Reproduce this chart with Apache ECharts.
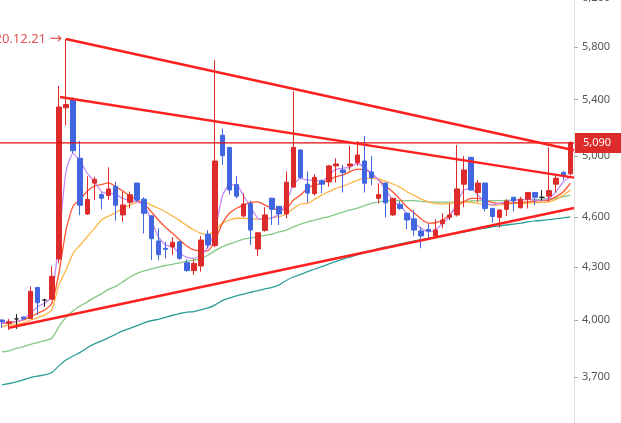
<!DOCTYPE html>
<html>
<head>
<meta charset="utf-8">
<script src="https://cdn.jsdelivr.net/npm/echarts@6/dist/echarts.min.js"></script>
<style>
  html, body { margin: 0; padding: 0; background: #fff; }
  #chart { width: 621px; height: 423px; }
</style>
</head>
<body>
<div id="chart"></div>
<script>
// daily candles: [open, close, low, high]
const ohlc = [
  [4000,3991,3957,4003],[3982,3991,3946,4006],[4006,4006,3952,4033],[4016,4007,4002,4018],
  [4008,4159,4005,4187],[4181,4095,4028,4185],[4110,4110,4072,4117],[4115,4245,4113,4304],
  [4346,5345,4321,5501],[5339,5363,5212,5863],[5396,5036,5020,5416],[4985,4676,4613,5103],
  [4621,4713,4615,4864],[4819,4844,4709,4861],[4744,4721,4650,4758],[4739,4781,4709,4924],
  [4798,4676,4579,4828],[4615,4678,4573,4764],[4695,4743,4656,4764],[4819,4709,4699,4822],
  [4715,4625,4500,4727],[4609,4468,4340,4612],[4454,4372,4340,4533],[4410,4404,4350,4449],
  [4418,4446,4370,4478],[4449,4350,4340,4454],[4324,4278,4272,4344],[4278,4320,4253,4344],
  [4305,4460,4272,4484],[4496,4430,4410,4521],[4426,4966,4418,5697],[5144,5002,4940,5191],
  [5059,4774,4744,5062],[4809,4734,4719,4864],[4609,4684,4599,4751],[4686,4521,4430,4704],
  [4406,4504,4364,4507],[4519,4615,4511,4663],[4721,4650,4552,4724],[4669,4621,4552,4672],
  [4621,4825,4594,4896],[4793,5059,4790,5461],[5041,4857,4844,5045],[4812,4754,4692,4896],
  [4750,4857,4737,4877],[4834,4812,4754,4844],[4827,4933,4795,4940],[4933,4946,4822,4985],
  [4906,4889,4758,4940],[4933,4946,4902,5068],[4955,5007,4933,5103],[4966,4818,4758,5138],
  [4893,4855,4805,5000],[4720,4744,4688,4817],[4819,4691,4600,4822],[4615,4720,4608,4723],
  [4682,4656,4646,4702],[4625,4583,4525,4628],[4590,4521,4485,4646],[4515,4485,4410,4540],
  [4525,4515,4470,4560],[4484,4521,4478,4587],[4560,4583,4531,4625],[4600,4615,4583,4688],
  [4615,4781,4605,5075],[4812,4906,4663,5000],[4991,4774,4770,4994],[4758,4819,4699,4839],
  [4819,4656,4636,4822],[4656,4605,4567,4659],[4600,4646,4535,4649],[4650,4703,4608,4714],
  [4727,4703,4636,4730],[4660,4715,4656,4730],[4715,4758,4656,4761],[4758,4727,4677,4761],
  [4727,4727,4705,4774],[4734,4770,4699,5059],[4812,4851,4758,4873],[4891,4869,4839,4894],
  [4880,5090,4870,5100]
];

// moving averages
const ma5 = [3985,3985,3991,4005,4037,4073,4092,4129,4460,4895,5018,4962,4884,4828,4763,4752,4746,4720,4705,4698,
  4677,4583,4480,4430,4420,4380,4356,4350,4370,4420,4521,4735,4807,4807,4735,4665,4594,4586,4597,4621,
  4696,4807,4850,4839,4839,4828,4873,4911,4918,4924,4951,4924,4884,4839,4774,4709,4671,4625,4567,4531,
  4511,4521,4562,4604,4688,4774,4785,4741,4698,4677,4688,4698,4709,4709,4714,4709,4709,4720,4763,4828,4861];
const ma10 = [3982,3985,3991,4000,4018,4037,4055,4092,4263,4521,4671,4715,4767,4800,4810,4820,4796,4767,4735,4709,
  4684,4635,4583,4538,4501,4460,4424,4400,4394,4396,4460,4562,4625,4657,4677,4694,4698,4677,4657,4646,
  4652,4709,4741,4785,4807,4818,4839,4861,4873,4895,4911,4906,4884,4839,4800,4761,4715,4665,4627,4589,
  4564,4566,4583,4615,4667,4698,4720,4720,4709,4692,4688,4688,4692,4694,4698,4703,4705,4709,4731,4763,4818];
const ma20 = [3964,3973,3978,3985,4000,4013,4028,4055,4196,4282,4380,4430,4480,4531,4583,4608,4629,4657,4677,4694,
  4698,4677,4657,4635,4608,4579,4548,4521,4501,4491,4521,4562,4583,4594,4594,4589,4589,4589,4597,4604,
  4621,4655,4684,4688,4714,4741,4763,4785,4800,4818,4839,4850,4850,4846,4830,4813,4793,4763,4739,4715,
  4698,4688,4684,4688,4692,4698,4694,4688,4682,4677,4677,4682,4688,4688,4688,4692,4694,4698,4714,4741,4774];
const ma60 = [3831,3836,3849,3857,3870,3879,3889,3902,3964,4015,4051,4077,4100,4125,4145,4170,4187,4213,4241,4262,
  4276,4288,4299,4308,4315,4324,4332,4340,4348,4370,4396,4418,4436,4451,4466,4473,4480,4488,4496,4509,
  4521,4540,4558,4571,4583,4594,4604,4619,4633,4646,4657,4673,4688,4696,4705,4705,4705,4705,4705,4701,
  4698,4696,4696,4696,4698,4701,4703,4704,4705,4705,4705,4707,4709,4711,4714,4714,4716,4718,4720,4731,4741];
const ma120 = [3662,3669,3677,3687,3699,3706,3712,3724,3758,3788,3809,3828,3852,3872,3888,3905,3923,3941,3955,3969,
  3985,3996,4004,4015,4026,4035,4043,4046,4055,4066,4083,4107,4121,4133,4144,4154,4163,4173,4182,4196,
  4221,4241,4256,4272,4286,4301,4317,4332,4346,4358,4370,4382,4394,4408,4418,4426,4436,4446,4454,4462,
  4470,4476,4484,4494,4501,4509,4517,4527,4533,4540,4546,4552,4558,4564,4571,4577,4581,4585,4591,4596,4602];

// drawn trend lines: [candle index, price]
const trendTop = [[9, 5863], [80.5, 5039]];
const trendMid = [[8.16, 5418], [80.5, 4855]];
const trendLow = [[1, 3958], [80.5, 4658]];

const lastPrice = 5090;
const peakDate = '20.12.21';
const yTicks = [3700, 4000, 4300, 4600, 5000, 5400, 5800, 6200];

const days = ohlc.map((d, i) => 'D' + (i + 1));

const chart = echarts.init(document.getElementById('chart'));

function maLine(name, data, color, width) {
  return {
    name: name, type: 'line', data: data, symbol: 'none', smooth: 0.2, z: 2,
    lineStyle: { color: color, width: width }, silent: true
  };
}
function trendLine(data) {
  return {
    type: 'line', xAxisIndex: 1, data: data, symbol: 'none', z: 5, silent: true,
    lineStyle: { color: '#ff1f1f', width: 2.5 }
  };
}

const option = {
  animation: false,
  backgroundColor: '#fff',
  textStyle: { fontFamily: 'Noto Sans, sans-serif' },
  grid: { left: -1.5, right: 47, top: -10, bottom: 0, containLabel: false, outerBoundsMode: 'none' },
  xAxis: [
    { type: 'category', data: days, show: false, boundaryGap: true },
    { type: 'value', min: -0.5, max: 80.5, show: false }
  ],
  yAxis: {
    type: 'log', logBase: 10, position: 'right', min: 3477, max: 6267,
    axisLine: { show: true, onZero: false, lineStyle: { color: '#dedede', width: 1 } },
    axisTick: { show: true, length: 4, customValues: yTicks, lineStyle: { color: '#aaa' } },
    axisLabel: {
      customValues: yTicks, margin: 8, color: '#555', fontSize: 11,
      formatter: v => Math.round(v).toLocaleString('en-US')
    },
    splitLine: { show: false }
  },
  series: [
    maLine('MA120', ma120, '#2a9d98', 1.3),
    maLine('MA60', ma60, '#86c886', 1.3),
    maLine('MA20', ma20, '#ffb347', 1.3),
    maLine('MA10', ma10, '#ff5530', 1.3),
    maLine('MA5', ma5, '#c58af5', 1.3),
    {
      type: 'candlestick', data: ohlc, barWidth: 5, z: 3,
      itemStyle: {
        color: '#dd2a2a', color0: '#4166e0',
        borderColor: '#dd2a2a', borderColor0: '#4166e0',
        borderColorDoji: '#222', borderWidth: 1
      }
    },
    {
      // last price line with its tag on the axis
      type: 'line', xAxisIndex: 1, silent: true, z: 4, symbol: 'none',
      data: [[-0.5, lastPrice], [80.5, lastPrice]],
      lineStyle: { color: '#e00a0a', width: 1.4 },
      endLabel: {
        show: true, distance: 1, formatter: lastPrice.toLocaleString('en-US'),
        color: '#fff', backgroundColor: '#dd2a2a', fontSize: 11,
        padding: [5, 12, 4, 8]
      }
    },
    trendLine(trendTop),
    trendLine(trendMid),
    trendLine(trendLow),
    {
      type: 'line', xAxisIndex: 1, data: [], silent: true,
      markPoint: {
        symbol: 'circle', symbolSize: 0,
        label: {
          show: true, position: 'left', distance: 4,
          formatter: peakDate + ' {a|\u2192}', color: '#e05555', fontSize: 13,
          rich: { a: { fontFamily: 'DejaVu Sans', fontSize: 15, color: '#e05555' } }
        },
        data: [{ coord: trendTop[0] }]
      }
    }
  ]
};

chart.setOption(option);
</script>
</body>
</html>
